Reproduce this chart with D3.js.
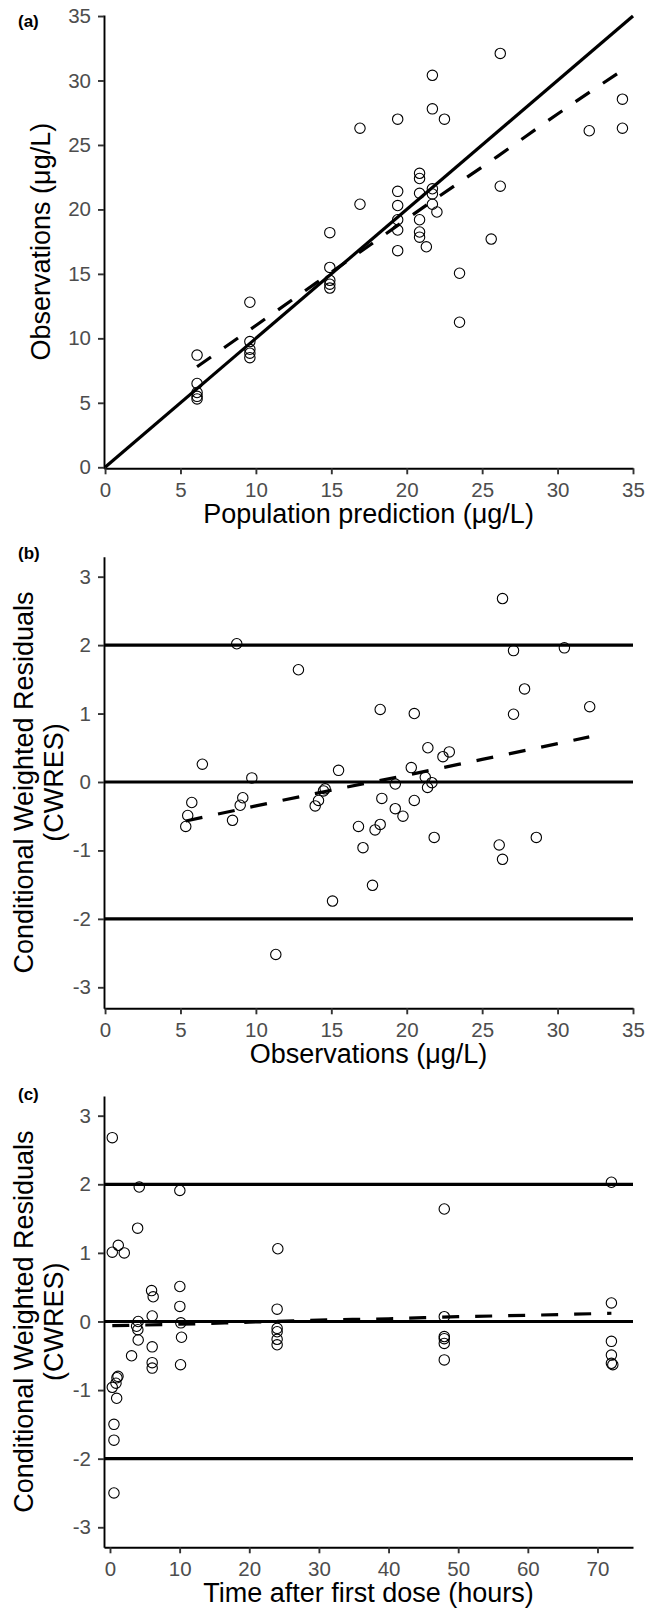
<!DOCTYPE html>
<html>
<head>
<meta charset="utf-8">
<script src="https://cdn.jsdelivr.net/npm/d3@7"></script>
<style>
  body { margin: 0; background: #fff; }
  text { font-family: "Liberation Sans", Arial, sans-serif; }
</style>
</head>
<body>
<svg id="chart"></svg>
<script>
// (a) population prediction vs observations
const predA = [6.1, 6.1, 6.1, 6.1, 6.1, 9.6, 9.6, 9.6, 9.6, 9.6, 14.9, 14.9, 14.9, 14.9, 14.9, 16.9, 16.9,
  19.4, 19.4, 19.4, 19.4, 19.4, 19.4, 20.85, 20.85, 20.85, 20.85, 20.85, 20.85, 21.3,
  21.7, 21.7, 21.7, 21.7, 21.7, 22.0, 22.5, 23.5, 23.5, 25.6, 26.2, 26.2, 32.1, 34.3, 34.3];
const obsA = [8.7, 6.5, 5.8, 5.5, 5.3, 12.8, 9.75, 9.15, 8.85, 8.5, 18.2, 15.5, 14.5, 14.2, 13.9, 26.3, 20.4,
  27.0, 21.4, 20.3, 19.2, 18.4, 16.8, 22.8, 22.4, 21.25, 19.2, 18.25, 17.85, 17.1,
  30.4, 27.8, 21.6, 21.2, 20.4, 19.8, 27.0, 15.05, 11.25, 17.7, 32.1, 21.8, 26.1, 28.55, 26.3];
const smoothPredA = [6.1, 10, 14, 18, 22, 26, 30, 34.3];
const smoothObsA = [7.8, 11.0, 14.3, 17.6, 20.9, 24.1, 27.4, 30.8];
const identityA = [0, 35];

// (b) observations vs CWRES
const obsB = [5.35, 5.48, 5.75, 6.45, 8.45, 8.73, 8.96, 9.13, 9.73, 11.32, 12.82, 13.93, 14.15, 14.48, 14.59,
  15.08, 15.48, 16.8, 17.1, 17.73, 17.9, 18.24, 18.24, 18.35, 19.24, 19.24, 19.75, 20.3, 20.5, 20.5,
  21.23, 21.38, 21.4, 21.67, 21.82, 22.4, 22.82, 26.13, 26.35, 26.35, 27.08, 27.08, 27.81, 28.59, 30.45, 32.13];
const cwresB = [-0.65, -0.49, -0.30, 0.26, -0.56, 2.02, -0.34, -0.23, 0.06, -2.52, 1.64, -0.35, -0.27, -0.13, -0.10,
  -1.74, 0.17, -0.65, -0.96, -1.51, -0.70, 1.06, -0.62, -0.24, -0.03, -0.39, -0.50, 0.21, 1.00, -0.27,
  0.07, -0.08, 0.50, -0.01, -0.81, 0.37, 0.44, -0.92, 2.68, -1.13, 1.92, 0.99, 1.36, -0.81, 1.96, 1.10];
const smoothObsB = [5.35, 10, 15, 20, 25, 30, 32.1];
const smoothCwresB = [-0.57, -0.35, -0.12, 0.10, 0.33, 0.56, 0.66];

// (c) time after first dose vs CWRES
const timeC = [0.33, 0.33, 0.33, 0.57, 0.57, 0.57, 1.19, 1.15, 1.0, 0.86, 0.96, 2.05, 3.1,
  4.2, 3.97, 4.05, 3.82, 4.0, 4.05, 5.97, 6.2, 6.06, 6.06, 6.06, 6.06,
  10.03, 10.03, 10.03, 10.17, 10.27, 10.13, 24.1, 24.0, 24.0, 24.0, 24.0, 24.0,
  48.0, 48.0, 48.0, 48.0, 48.0, 48.0, 72.0, 72.0, 72.0, 72.0, 72.0, 72.2];
const cwresC = [2.68, 1.01, -0.96, -1.50, -1.73, -2.50, 1.11, -0.80, -0.82, -0.90, -1.12, 1.00, -0.50,
  1.96, 1.36, 0.0, -0.07, -0.12, -0.27, 0.45, 0.36, 0.08, -0.37, -0.60, -0.68,
  1.91, 0.51, 0.22, -0.02, -0.23, -0.63, 1.06, 0.18, -0.10, -0.15, -0.26, -0.34,
  1.64, 0.07, -0.22, -0.25, -0.32, -0.56, 2.03, 0.27, -0.29, -0.49, -0.61, -0.63];
const smoothTimeC = [0.33, 10, 20, 30, 40, 50, 60, 72];
const smoothCwresC = [-0.06, -0.04, -0.01, 0.02, 0.04, 0.07, 0.09, 0.12];

const refLevels = [-2, 0, 2];
const concTicks = [0, 5, 10, 15, 20, 25, 30, 35];
const cwresTicks = [-3, -2, -1, 0, 1, 2, 3];
const timeTicks = [0, 10, 20, 30, 40, 50, 60, 70];

const width = 655;
const height = 1610;

const svg = d3.select("#chart")
    .attr("width", width)
    .attr("height", height);

function drawPanel(p) {
    const x = d3.scaleLinear().domain(p.xDomain).range([104, 633]);
    const y = d3.scaleLinear().domain(p.yDomain).range([p.bottom, p.top]);
    const g = svg.append("g");

    // points
    g.selectAll("circle")
        .data(d3.zip(p.xs, p.ys))
        .enter().append("circle")
        .attr("cx", d => x(d[0]))
        .attr("cy", d => y(d[1]))
        .attr("r", 5.2)
        .attr("fill", "none")
        .attr("stroke", "#000")
        .attr("stroke-width", 1.1);

    const line = d3.line().x(d => x(d[0])).y(d => y(d[1]));

    if (p.identity) {
        g.append("path")
            .attr("d", line(d3.zip(p.identity, p.identity)))
            .attr("fill", "none")
            .attr("stroke", "#000")
            .attr("stroke-width", 3.2);
    }
    if (p.refs) {
        g.selectAll(".ref")
            .data(p.refs)
            .enter().append("line")
            .attr("x1", x(p.xDomain[0]))
            .attr("x2", x(p.xDomain[1]))
            .attr("y1", d => y(d))
            .attr("y2", d => y(d))
            .attr("stroke", "#000")
            .attr("stroke-width", 3.2);
    }

    // smooth (dashed)
    g.append("path")
        .attr("d", line.curve(d3.curveMonotoneX)(d3.zip(p.sx, p.sy)))
        .attr("fill", "none")
        .attr("stroke", "#000")
        .attr("stroke-width", 3.2)
        .attr("stroke-dasharray", "17,16");

    // axes
    const xAxis = g.append("g")
        .attr("transform", `translate(0,${p.bottom})`)
        .call(d3.axisBottom(x).tickValues(p.xTicks).tickSize(6).tickSizeOuter(0)
            .tickPadding(8).tickFormat(d => String(d)));
    const yAxis = g.append("g")
        .attr("transform", "translate(104,0)")
        .call(d3.axisLeft(y).tickValues(p.yTicks).tickSize(6).tickSizeOuter(0)
            .tickPadding(7).tickFormat(d => String(d)));

    [xAxis, yAxis].forEach(a => {
        a.select(".domain").attr("stroke", "#000").attr("stroke-width", 1.9);
        a.selectAll(".tick line").attr("stroke", "#333").attr("stroke-width", 1.9);
        a.selectAll(".tick text").attr("fill", "#4d4d4d").style("font-size", "20.5px");
    });

    // titles
    g.append("text")
        .attr("x", 368.5)
        .attr("y", p.bottom + 55)
        .attr("text-anchor", "middle")
        .style("font-size", "27px")
        .text(p.xTitle);

    const yt = g.append("text")
        .attr("transform", `translate(0,${(p.top + p.bottom) / 2}) rotate(-90)`)
        .attr("text-anchor", "middle")
        .style("font-size", "27px");
    if (p.yTitle.length === 1) {
        yt.append("tspan").attr("x", 0).attr("y", 50).text(p.yTitle[0]);
    } else {
        yt.append("tspan").attr("x", 0).attr("y", 33).text(p.yTitle[0]);
        yt.append("tspan").attr("x", 0).attr("y", 63).text(p.yTitle[1]);
    }

    g.append("text")
        .attr("x", 18)
        .attr("y", p.labelY)
        .style("font-size", "17px")
        .style("font-weight", "bold")
        .text(p.label);
}

drawPanel({
    label: "(a)", labelY: 27,
    xs: predA, ys: obsA, sx: smoothPredA, sy: smoothObsA, identity: identityA,
    xDomain: [-0.07, 35], yDomain: [-0.08, 35.08], top: 15, bottom: 468.3,
    xTicks: concTicks, yTicks: concTicks,
    xTitle: "Population prediction (μg/L)", yTitle: ["Observations (μg/L)"]
});

drawPanel({
    label: "(b)", labelY: 559,
    xs: obsB, ys: cwresB, sx: smoothObsB, sy: smoothCwresB, refs: refLevels,
    xDomain: [-0.07, 35], yDomain: [-3.307, 3.292], top: 556.7, bottom: 1008.3,
    xTicks: concTicks, yTicks: cwresTicks,
    xTitle: "Observations (μg/L)", yTitle: ["Conditional Weighted Residuals", "(CWRES)"]
});

drawPanel({
    label: "(c)", labelY: 1100,
    xs: timeC, ys: cwresC, sx: smoothTimeC, sy: smoothCwresC, refs: refLevels,
    xDomain: [-0.86, 75.1], yDomain: [-3.292, 3.287], top: 1096, bottom: 1547.3,
    xTicks: timeTicks, yTicks: cwresTicks,
    xTitle: "Time after first dose (hours)", yTitle: ["Conditional Weighted Residuals", "(CWRES)"]
});
</script>
</body>
</html>
